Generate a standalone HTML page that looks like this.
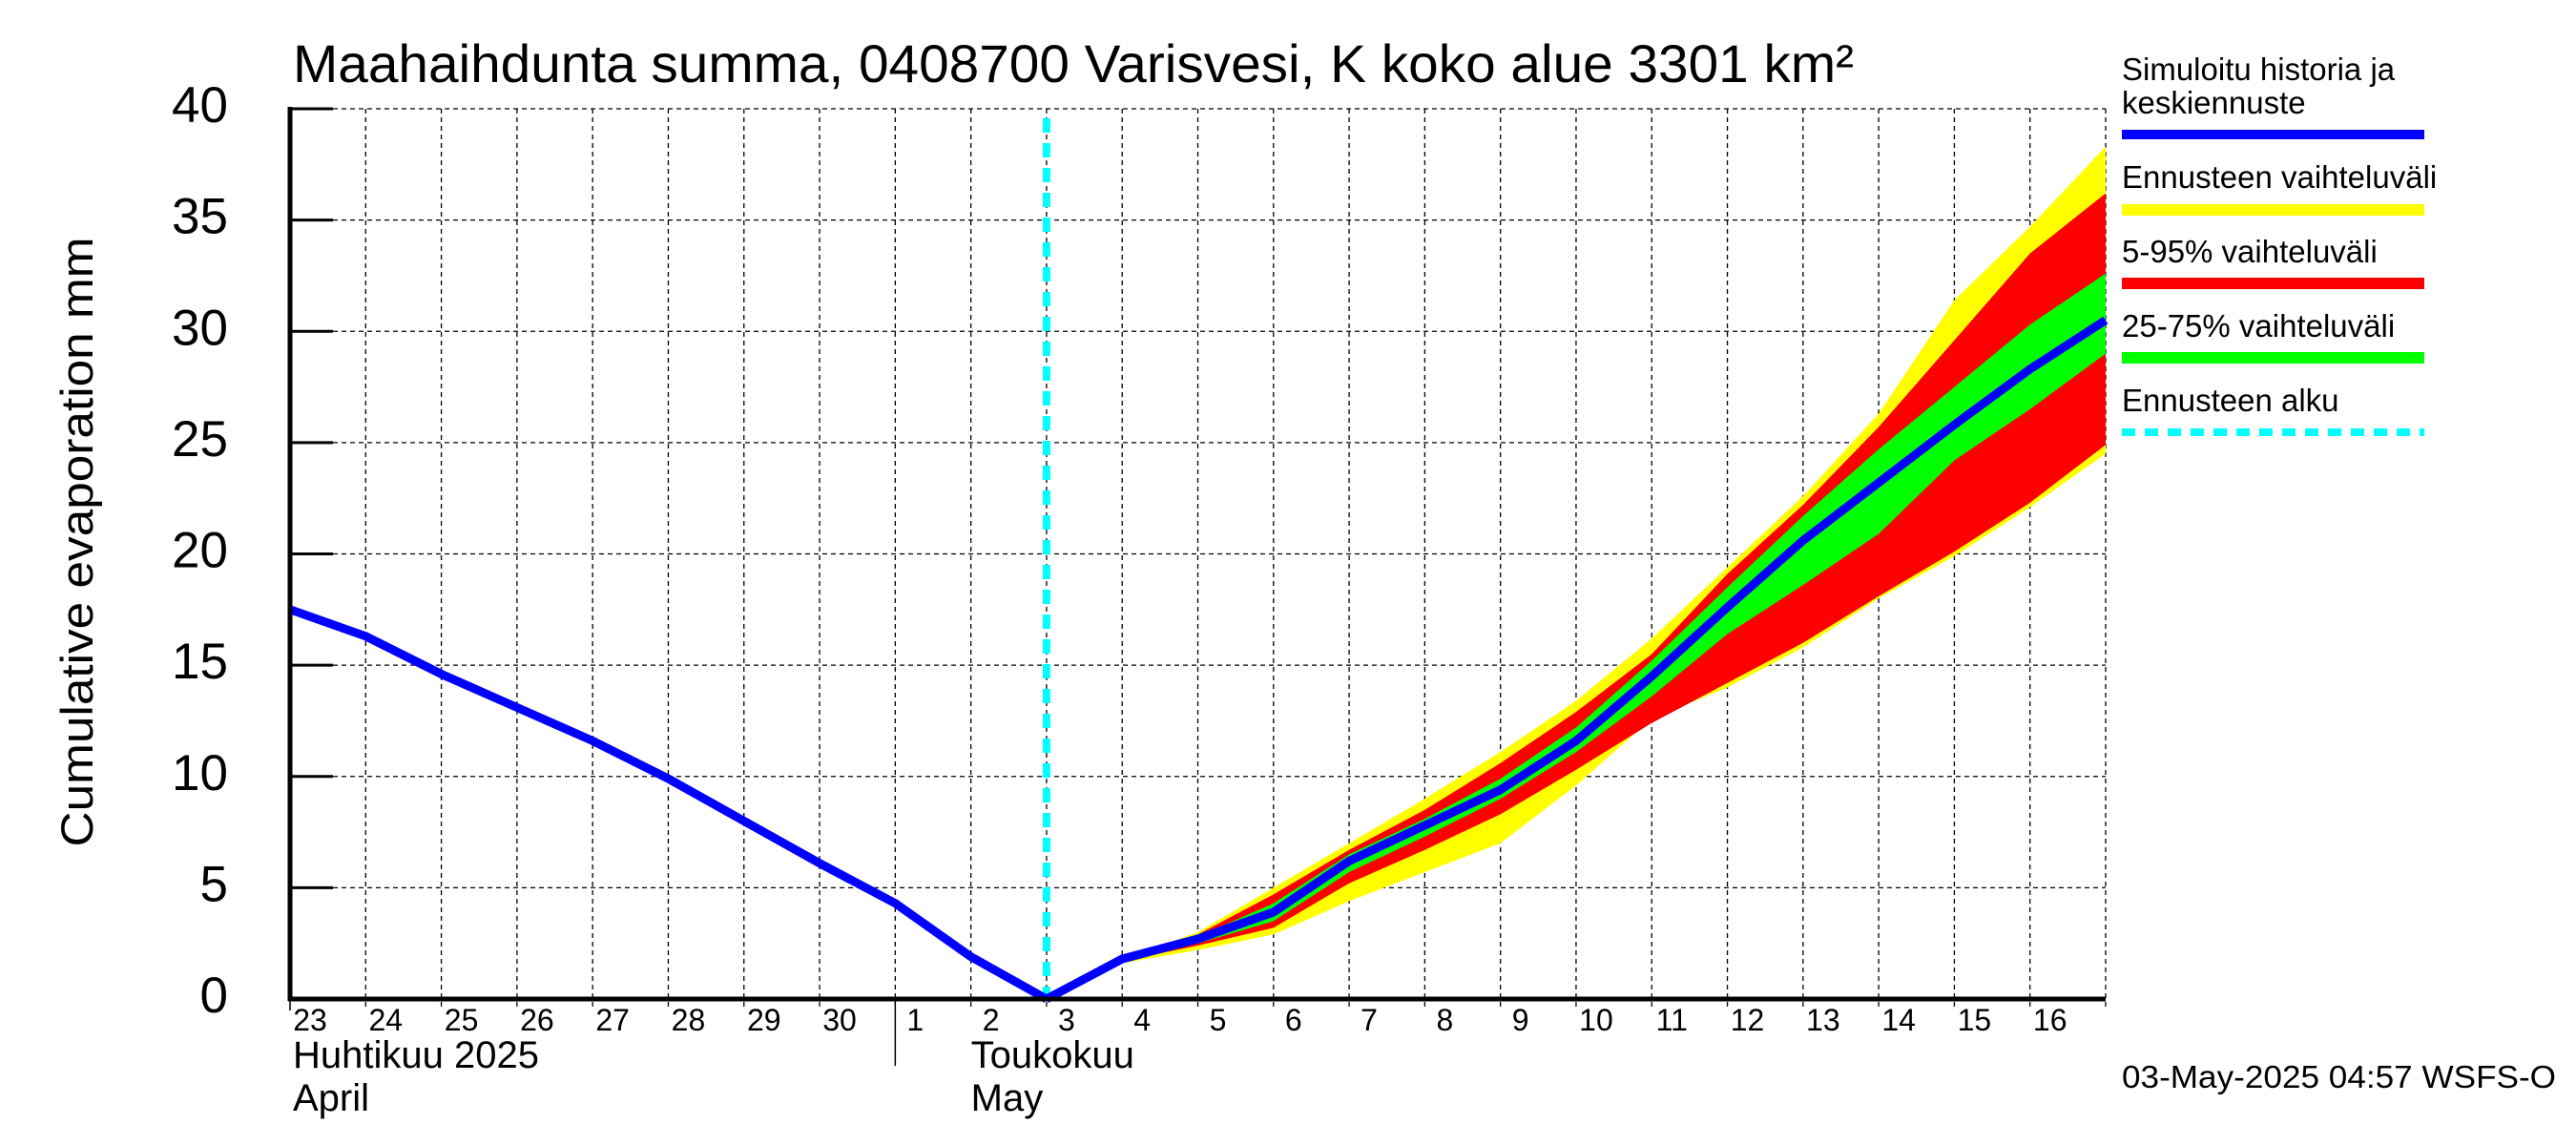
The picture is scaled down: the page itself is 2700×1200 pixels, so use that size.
<!DOCTYPE html>
<html><head><meta charset="utf-8"><style>body{margin:0;background:#fff}svg{display:block}text{font-family:"Liberation Sans",sans-serif}</style></head>
<body>
<svg id="chart" width="2700" height="1200" viewBox="0 0 2700 1200" xmlns="http://www.w3.org/2000/svg">
<rect width="2700" height="1200" fill="#fff"/>
<text x="307" y="86" font-size="56" textLength="1636" lengthAdjust="spacingAndGlyphs">Maahaihdunta summa, 0408700 Varisvesi, K koko alue 3301 km²</text>
<text transform="translate(97,568) rotate(-90)" font-size="47" text-anchor="middle" textLength="639" lengthAdjust="spacingAndGlyphs">Cumulative evaporation   mm</text>
<g id="grid"></g>
<g id="bands"></g>
<g id="lines"></g>
<g id="axes"></g>
<g font-size="33">
<text x="2224" y="84">Simuloitu historia ja</text>
<text x="2224" y="119">keskiennuste</text>
<line x1="2224" x2="2541" y1="141" y2="141" stroke="#0000ff" stroke-width="10"/>
<text x="2224" y="197">Ennusteen vaihteluväli</text>
<line x1="2224" x2="2541" y1="220" y2="220" stroke="#ffff00" stroke-width="12"/>
<text x="2224" y="275">5-95% vaihteluväli</text>
<line x1="2224" x2="2541" y1="297" y2="297" stroke="#ff0000" stroke-width="12"/>
<text x="2224" y="353">25-75% vaihteluväli</text>
<line x1="2224" x2="2541" y1="375" y2="375" stroke="#00ff00" stroke-width="12"/>
<text x="2224" y="431">Ennusteen alku</text>
<line x1="2224" x2="2541" y1="453" y2="453" stroke="#00ffff" stroke-width="8" stroke-dasharray="14,10"/>
</g>
<text x="2224" y="1140" font-size="33" textLength="455" lengthAdjust="spacingAndGlyphs">03-May-2025 04:57 WSFS-O</text>
</svg>
<script>
const dayLabels=["23","24","25","26","27","28","29","30","1","2","3","4","5","6","7","8","9","10","11","12","13","14","15","16"];
const yTicks=[0,5,10,15,20,25,30,35,40];
const histDays=[0,1,2,3,4,5,6,7,8,9,10];
const histVals=[17.5,16.3,14.6,13.1,11.6,9.9,8.0,6.1,4.3,1.9,0];
const fcDays=[10,11,12,13,14,15,16,17,18,19,20,21,22,23,24];
const median=[0,1.8,2.7,3.9,6.2,7.8,9.4,11.6,14.5,17.6,20.6,23.2,25.8,28.3,30.5];
const maxV=[0,1.8,3.0,5.0,7.0,9.0,11.1,13.4,16.2,19.4,22.6,26.3,31.4,34.7,38.3];
const minV=[0,1.6,2.2,2.9,4.4,5.7,7.0,9.6,12.6,14.0,15.8,18.0,19.9,22.1,24.5];
const p95=[0,1.8,2.9,4.7,6.7,8.5,10.6,12.9,15.5,19.1,22.2,25.7,29.6,33.5,36.2];
const p05=[0,1.7,2.4,3.2,5.2,6.7,8.3,10.3,12.4,14.2,16.0,18.1,20.1,22.3,24.9];
const p75=[0,1.8,2.8,4.3,6.5,8.1,9.9,12.2,15.2,18.5,21.7,24.7,27.5,30.3,32.6];
const p25=[0,1.7,2.5,3.5,5.7,7.3,9.0,11.1,13.6,16.4,18.6,20.9,24.2,26.5,29.0];
const forecastStartDay=10;
const X0=304,X1=2207,NDAYS=24,Y0=1047,Y1=114,YMAX=40;
const xs=d=>X0+(X1-X0)*d/NDAYS;
const ys=v=>Y0-(Y0-Y1)*v/YMAX;
const NS="http://www.w3.org/2000/svg";
function mk(tag,attrs,parent,txt){const e=document.createElementNS(NS,tag);for(const k in attrs)e.setAttribute(k,attrs[k]);if(txt!==undefined)e.textContent=txt;document.getElementById(parent).appendChild(e);return e;}
// grid
for(let d=1;d<=NDAYS;d++){const e=mk('line',{x1:xs(d),x2:xs(d),y1:Y1,y2:Y0+10,stroke:'#000','stroke-width':1.3,'stroke-dasharray':'5,4'},'grid');

}
yTicks.forEach(v=>{if(v===0)return;const e=mk('line',{x1:X0,x2:X1,y1:ys(v),y2:ys(v),stroke:'#000','stroke-width':1.3,'stroke-dasharray':'5,4'},'grid');

});
// bands
function band(up,lo,color,name){let p='';fcDays.forEach((d,i)=>{p+=(i?'L':'M')+xs(d)+','+ys(up[i]);});for(let i=fcDays.length-1;i>=0;i--)p+='L'+xs(fcDays[i])+','+ys(lo[i]);p+='Z';const e=mk('path',{d:p,fill:color},'bands');

}
band(maxV,minV,'#ffff00','band-range');
band(p95,p05,'#ff0000','band-5-95');
band(p75,p25,'#00ff00','band-25-75');
// cyan
const c=mk('line',{x1:xs(forecastStartDay),x2:xs(forecastStartDay),y1:Y1+10,y2:Y0,stroke:'#00ffff','stroke-width':8,'stroke-dasharray':'15,11'},'lines');


function line(days,vals,name){const e=mk('polyline',{points:days.map((d,i)=>xs(d)+','+ys(vals[i])).join(' '),fill:'none',stroke:'#0000ff','stroke-width':9,'stroke-linejoin':'round'},'lines');

}
line(histDays,histVals,'history-line');
line(fcDays,median,'median-forecast-line');
// axes
let a=mk('line',{x1:X0,x2:X0,y1:Y1-2,y2:Y0+2,stroke:'#000','stroke-width':5},'axes');


a=mk('line',{x1:X0-2,x2:X1,y1:Y0,y2:Y0,stroke:'#000','stroke-width':5},'axes');


yTicks.forEach(v=>{let t=mk('line',{x1:X0,x2:X0+45,y1:ys(v),y2:ys(v),stroke:'#000','stroke-width':3},'axes');


t=mk('text',{x:239,y:ys(v)+14,'font-size':53,'text-anchor':'end'},'axes',String(v));

});
dayLabels.forEach((l,i)=>{const t=mk('text',{x:xs(i)+21,y:1080,'font-size':32,'text-anchor':'middle'},'axes',l);

});
a=mk('line',{x1:X0,x2:X0,y1:Y0,y2:Y0+12,stroke:'#000','stroke-width':1.5},'axes');


a=mk('line',{x1:xs(8),x2:xs(8),y1:Y0,y2:1117,stroke:'#000','stroke-width':1.5},'axes');


const months=[["Huhtikuu  2025",307,1119],["April",307,1164],["Toukokuu",xs(9),1119],["May",xs(9),1164]];
months.forEach(m=>{const t=mk('text',{x:m[1],y:m[2],'font-size':40},'axes',m[0]);

});
</script>
</body></html>
